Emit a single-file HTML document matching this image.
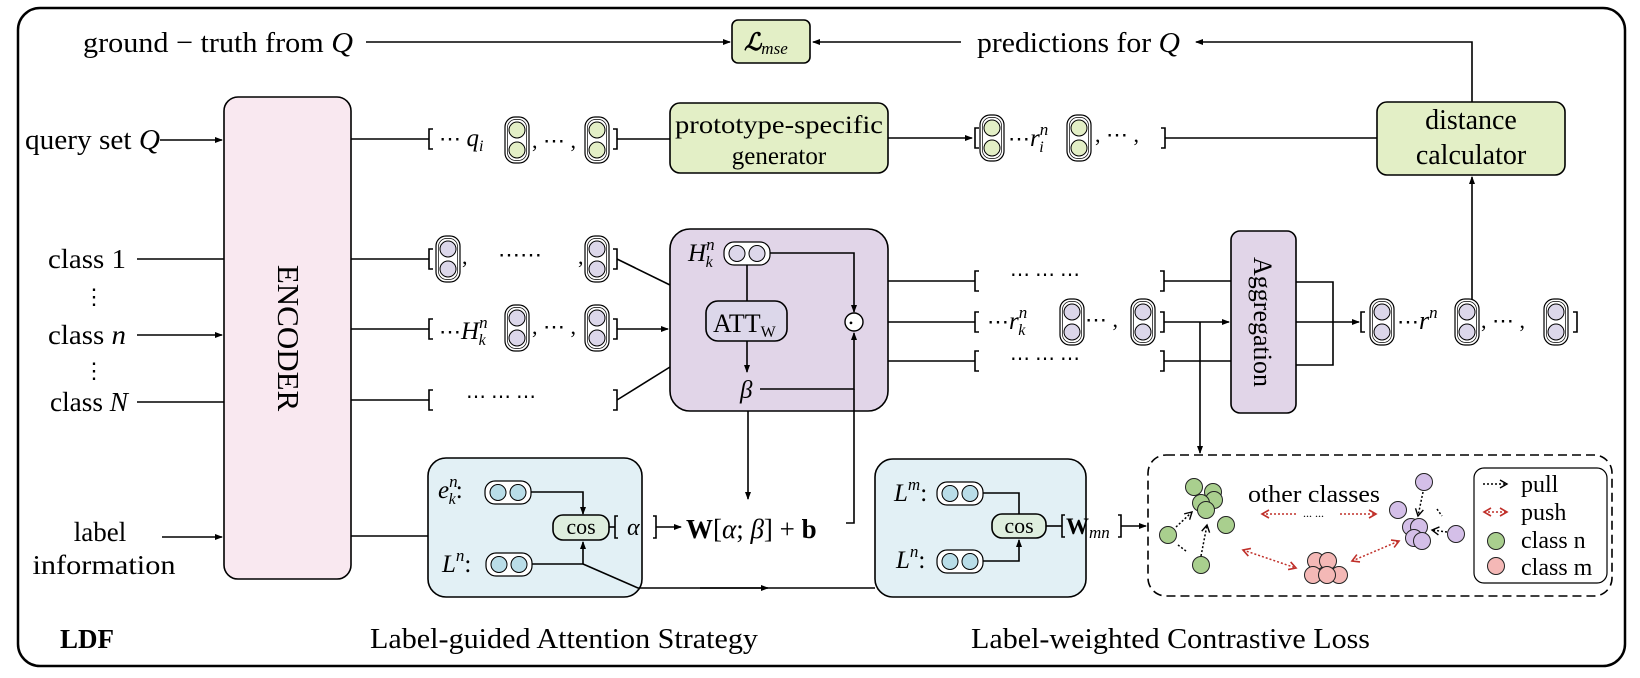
<!DOCTYPE html>
<html><head><meta charset="utf-8"><style>
html,body{margin:0;padding:0;background:#fff}
svg{display:block}
text{font-family:"Liberation Serif",serif;fill:#000}
.i{font-style:italic}
</style></head><body>
<svg width="1640" height="678" viewBox="0 0 1640 678" xmlns="http://www.w3.org/2000/svg">
<defs>
<marker id="a" markerWidth="8" markerHeight="8" refX="7" refY="4" orient="auto" markerUnits="userSpaceOnUse"><path d="M0,1 L8,4 L0,7 Z" fill="#000"/></marker>
<marker id="ar" markerWidth="10" markerHeight="10" refX="8" refY="5" orient="auto" markerUnits="userSpaceOnUse"><path d="M1,1 L8,5 L1,9" fill="none" stroke="#c0302a" stroke-width="1.6"/></marker>
<marker id="ars" markerWidth="10" markerHeight="10" refX="2" refY="5" orient="auto" markerUnits="userSpaceOnUse"><path d="M9,1 L2,5 L9,9" fill="none" stroke="#c0302a" stroke-width="1.6"/></marker>
<marker id="ab" markerWidth="10" markerHeight="10" refX="8" refY="5" orient="auto" markerUnits="userSpaceOnUse"><path d="M1,1 L8,5 L1,9" fill="none" stroke="#000" stroke-width="1.4"/></marker>
<g id="vg"><rect x="0" y="0" width="24" height="46" rx="10" fill="#fff" stroke="#000" stroke-width="1.2"/><rect x="2.5" y="2.5" width="19" height="41" rx="8" fill="none" stroke="#000" stroke-width="0.7"/><circle cx="12" cy="13" r="8" fill="#e3efc6" stroke="#000" stroke-width="1"/><circle cx="12" cy="33" r="8" fill="#e3efc6" stroke="#000" stroke-width="1"/></g>
<g id="vp"><rect x="0" y="0" width="24" height="46" rx="10" fill="#fff" stroke="#000" stroke-width="1.2"/><rect x="2.5" y="2.5" width="19" height="41" rx="8" fill="none" stroke="#000" stroke-width="0.7"/><circle cx="12" cy="13" r="8" fill="#dcd7ea" stroke="#000" stroke-width="1"/><circle cx="12" cy="33" r="8" fill="#dcd7ea" stroke="#000" stroke-width="1"/></g>
<g id="hp"><rect x="0" y="0" width="46" height="23" rx="10" fill="#fff" stroke="#000" stroke-width="1.2"/><circle cx="13" cy="11.5" r="8" fill="#dcd7ea" stroke="#000" stroke-width="1"/><circle cx="33" cy="11.5" r="8" fill="#dcd7ea" stroke="#000" stroke-width="1"/></g>
<g id="hb"><rect x="0" y="0" width="46" height="23" rx="10" fill="#fff" stroke="#000" stroke-width="1.2"/><circle cx="13" cy="11.5" r="8" fill="#b9dde8" stroke="#000" stroke-width="1"/><circle cx="33" cy="11.5" r="8" fill="#b9dde8" stroke="#000" stroke-width="1"/></g>
</defs>
<g stroke="#000" stroke-width="1.6" fill="none">
<rect x="18" y="8" width="1607" height="658" rx="22" stroke-width="2.5"/>
<line x1="366" y1="42" x2="730" y2="42" marker-end="url(#a)"/>
<line x1="961" y1="42" x2="813" y2="42" marker-end="url(#a)"/>
<polyline points="1472,102 1472,42 1196,42" marker-end="url(#a)"/>
<line x1="160" y1="140" x2="222" y2="140" marker-end="url(#a)"/>
<line x1="137" y1="259" x2="224" y2="259"/>
<line x1="137" y1="335" x2="222" y2="335" marker-end="url(#a)"/>
<line x1="137" y1="402" x2="224" y2="402"/>
<line x1="162" y1="537" x2="222" y2="537" marker-end="url(#a)"/>
<line x1="351" y1="139" x2="429" y2="139"/>
<line x1="351" y1="259" x2="429" y2="259"/>
<line x1="351" y1="329" x2="429" y2="329"/>
<line x1="351" y1="400" x2="429" y2="400"/>
<line x1="351" y1="536" x2="428" y2="536"/>
<line x1="617" y1="139" x2="670" y2="139"/>
<line x1="888" y1="138" x2="972" y2="138" marker-end="url(#a)"/>
<line x1="1165" y1="138" x2="1377" y2="138"/>
<line x1="617" y1="259" x2="670" y2="285"/>
<line x1="617" y1="329" x2="668" y2="329" marker-end="url(#a)"/>
<line x1="617" y1="400" x2="670" y2="367"/>
<line x1="888" y1="281" x2="975" y2="281"/>
<line x1="888" y1="322" x2="975" y2="322"/>
<line x1="888" y1="361" x2="975" y2="361"/>
<line x1="1164" y1="281" x2="1231" y2="281"/>
<line x1="1164" y1="322" x2="1229" y2="322" marker-end="url(#a)"/>
<line x1="1164" y1="361" x2="1231" y2="361"/>
<line x1="1200" y1="322" x2="1200" y2="453" marker-end="url(#a)"/>
<polyline points="1296,282 1333,282 1333,365 1296,365"/>
<line x1="1296" y1="322" x2="1359" y2="322" marker-end="url(#a)"/>
<line x1="1472" y1="300" x2="1472" y2="177" marker-end="url(#a)"/>
<path d="M433,129 h-4 v20 h4 M613,129 h4 v20 h-4" />
<path d="M433,249 h-4 v20 h4 M613,249 h4 v20 h-4" />
<path d="M433,319 h-4 v20 h4 M613,319 h4 v20 h-4" />
<path d="M433,390 h-4 v20 h4 M613,390 h4 v20 h-4" />
<path d="M979,128 h-4 v20 h4 M1161,128 h4 v20 h-4" />
<path d="M979,271 h-4 v20 h4 M1160,271 h4 v20 h-4" />
<path d="M979,312 h-4 v20 h4 M1160,312 h4 v20 h-4" />
<path d="M979,351 h-4 v20 h4 M1160,351 h4 v20 h-4" />
<path d="M1365,312 h-4 v20 h4 M1573,312 h4 v20 h-4" />
<rect x="224" y="97" width="127" height="482" rx="14" fill="#f9e8f0"/>
<rect x="732" y="20" width="78" height="43" rx="6" fill="#e3efc6"/>
<rect x="670" y="103" width="218" height="70" rx="10" fill="#e3efc6"/>
<rect x="1377" y="102" width="188" height="73" rx="10" fill="#e3efc6"/>
<rect x="670" y="229" width="218" height="182" rx="20" fill="#e1d5e8"/>
<rect x="1231" y="231" width="65" height="182" rx="9" fill="#e1d5e8"/>
<rect x="428" y="458" width="214" height="139" rx="18" fill="#e2f0f5"/>
<rect x="875" y="459" width="211" height="138" rx="18" fill="#e2f0f5"/>
<rect x="1148" y="455" width="464" height="141" rx="18" stroke-dasharray="9,5"/>
<rect x="1474" y="468" width="133" height="115" rx="10" stroke-width="1.2"/>
<polyline points="769,253 854,253 854,312" marker-end="url(#a)"/>
<line x1="747" y1="264" x2="747" y2="301"/>
<line x1="747" y1="341" x2="747" y2="372" marker-end="url(#a)"/>
<polyline points="760,389 854,389 854,333" marker-end="url(#a)"/>
<polyline points="846,523 854,523 854,389"/>
<line x1="748" y1="411" x2="748" y2="499" marker-end="url(#a)"/>
<circle cx="854" cy="322" r="9" fill="#fff" stroke-width="1.4"/>
<rect x="706" y="301" width="81" height="40" rx="12" fill="#dcd7ea"/>
<polyline points="531,492 583,492 583,514" marker-end="url(#a)"/>
<polyline points="532,564 583,564 583,542" marker-end="url(#a)"/>
<polyline points="583,564 638,588 875,588"/>
<line x1="700" y1="588" x2="768" y2="588" marker-end="url(#a)"/>
<rect x="553" y="515" width="56" height="25" rx="10" fill="#deeede"/>
<line x1="609" y1="527" x2="615" y2="527"/>
<line x1="656" y1="527" x2="681" y2="527" marker-end="url(#a)"/>
<path d="M618,516 h-3 v22 h3 M653,516 h3 v22 h-3"/>
<polyline points="983,493 1019,493 1019,514"/>
<polyline points="983,561 1019,561 1019,540" marker-end="url(#a)"/>
<rect x="992" y="514" width="54" height="24" rx="10" fill="#deeede"/>
<line x1="1046" y1="526" x2="1062" y2="526"/>
<line x1="1121" y1="526" x2="1146" y2="526" marker-end="url(#a)"/>
<path d="M1065,515 h-3 v22 h3 M1118,515 h3 v22 h-3"/>
</g>
<use href="#vg" x="505" y="117"/><use href="#vg" x="585" y="117"/>
<use href="#vg" x="980" y="115"/><use href="#vg" x="1067" y="115"/>
<use href="#vp" x="436" y="236"/><use href="#vp" x="585" y="236"/>
<use href="#vp" x="505" y="305"/><use href="#vp" x="585" y="305"/>
<use href="#vp" x="1060" y="299"/><use href="#vp" x="1131" y="299"/>
<use href="#vp" x="1370" y="299"/><use href="#vp" x="1455" y="299"/><use href="#vp" x="1544" y="299"/>
<use href="#hp" x="724" y="242"/>
<use href="#hb" x="485" y="481"/><use href="#hb" x="486" y="553"/>
<use href="#hb" x="937" y="482"/><use href="#hb" x="937" y="550"/>
<g stroke="#222" stroke-width="1">
<g fill="#a9cf8e"><circle cx="1194" cy="487" r="8.5"/><circle cx="1213" cy="492" r="8.5"/><circle cx="1214" cy="500" r="8.5"/><circle cx="1201" cy="503" r="8.5"/><circle cx="1206" cy="510" r="8.5"/><circle cx="1226" cy="525" r="8.5"/><circle cx="1168" cy="535" r="8.5"/><circle cx="1201" cy="565" r="8.5"/></g>
<g fill="#d4bfe8"><circle cx="1424" cy="482" r="8.5"/><circle cx="1398" cy="510" r="8.5"/><circle cx="1411" cy="527" r="8.5"/><circle cx="1419" cy="527" r="8.5"/><circle cx="1414" cy="538" r="8.5"/><circle cx="1422" cy="541" r="8.5"/><circle cx="1456" cy="534" r="8.5"/></g>
<g fill="#f4b8b6"><circle cx="1316" cy="561" r="8.5"/><circle cx="1328" cy="561" r="8.5"/><circle cx="1313" cy="575" r="8.5"/><circle cx="1339" cy="575" r="8.5"/><circle cx="1327" cy="575" r="8.5"/></g>
<circle cx="1496" cy="541" r="8.5" fill="#a9cf8e"/><circle cx="1496" cy="566" r="8.5" fill="#f4b8b6"/>
</g>
<g fill="none" stroke-width="1.5" stroke-dasharray="2,2">
<line x1="1176" y1="527" x2="1192" y2="512" stroke="#000" marker-end="url(#ab)"/>
<line x1="1201" y1="556" x2="1207" y2="525" stroke="#000" marker-end="url(#ab)"/>
<line x1="1178" y1="545" x2="1186" y2="551" stroke="#000"/>
<line x1="1423" y1="492" x2="1418" y2="516" stroke="#000" marker-end="url(#ab)"/>
<line x1="1447" y1="532" x2="1432" y2="530" stroke="#000" marker-end="url(#ab)"/>
<line x1="1437" y1="509" x2="1442" y2="516" stroke="#000"/>
<line x1="1483" y1="484" x2="1507" y2="484" stroke="#000" marker-end="url(#ab)"/>
<line x1="1262" y1="514" x2="1296" y2="514" stroke="#c0302a" marker-start="url(#ars)"/>
<line x1="1340" y1="514" x2="1376" y2="514" stroke="#c0302a" marker-end="url(#ar)"/>
<line x1="1243" y1="550" x2="1296" y2="568" stroke="#c0302a" marker-start="url(#ars)" marker-end="url(#ar)"/>
<line x1="1352" y1="561" x2="1399" y2="541" stroke="#c0302a" marker-start="url(#ars)" marker-end="url(#ar)"/>
<line x1="1484" y1="512" x2="1507" y2="512" stroke="#c0302a" marker-start="url(#ars)" marker-end="url(#ar)"/>
</g>
<text x="1303" y="517" font-size="12">... ...</text>
<text x="83" y="52" font-size="29" textLength="270" lengthAdjust="spacingAndGlyphs">ground − truth from <tspan class="i">Q</tspan></text>
<text x="977" y="52" font-size="29" textLength="203" lengthAdjust="spacingAndGlyphs">predictions for <tspan class="i">Q</tspan></text>
<text x="744" y="50" font-size="24" font-weight="bold" font-style="italic">ℒ<tspan font-size="17" dy="4" font-weight="normal">mse</tspan></text>
<text x="25" y="149" font-size="28" textLength="135" lengthAdjust="spacingAndGlyphs">query set <tspan class="i">Q</tspan></text>
<text x="48" y="268" font-size="27" textLength="78" lengthAdjust="spacingAndGlyphs">class 1</text>
<text x="83" y="304" font-size="22">⋮</text>
<text x="48" y="344" font-size="27" textLength="78" lengthAdjust="spacingAndGlyphs">class <tspan class="i">n</tspan></text>
<text x="83" y="378" font-size="22">⋮</text>
<text x="50" y="411" font-size="27" textLength="78" lengthAdjust="spacingAndGlyphs">class <tspan class="i">N</tspan></text>
<text x="100" y="541" font-size="27" text-anchor="middle">label</text>
<text x="104" y="574" font-size="27" text-anchor="middle" textLength="143" lengthAdjust="spacingAndGlyphs">information</text>
<text transform="translate(278,338) rotate(90)" font-size="31" text-anchor="middle">ENCODER</text>
<text transform="translate(1254,322) rotate(90)" font-size="26" text-anchor="middle">Aggregation</text>
<text x="779" y="133" font-size="25" text-anchor="middle" textLength="208" lengthAdjust="spacingAndGlyphs">prototype-specific</text>
<text x="779" y="164" font-size="25" text-anchor="middle">generator</text>
<text x="1471" y="129" font-size="28" text-anchor="middle">distance</text>
<text x="1471" y="164" font-size="28" text-anchor="middle">calculator</text>
<text x="439" y="146" font-size="22">⋯ <tspan class="i" font-size="25">q</tspan><tspan class="i" font-size="16" dy="5">i</tspan></text>
<text x="532" y="148" font-size="22">, ⋯ ,</text>
<text x="1008" y="146" font-size="22">⋯<tspan class="i" font-size="25">r</tspan><tspan class="i" font-size="17" dy="-11">n</tspan><tspan class="i" font-size="16" dx="-9" dy="17">i</tspan></text>
<text x="1095" y="142" font-size="22">, ⋯ ,</text>
<text x="462" y="264" font-size="22">,</text><text x="498" y="262" font-size="22">⋯⋯</text><text x="578" y="264" font-size="22">,</text>
<text x="439" y="339" font-size="22">⋯<tspan class="i" font-size="25">H</tspan><tspan class="i" font-size="17" dy="-11">n</tspan><tspan class="i" font-size="16" dx="-9" dy="17">k</tspan></text>
<text x="532" y="334" font-size="22">, ⋯ ,</text>
<text x="466" y="403" font-size="20">⋯  ⋯  ⋯</text>
<text x="688" y="261" font-size="25" class="i">H<tspan font-size="17" dy="-11">n</tspan><tspan font-size="16" dx="-9" dy="17">k</tspan></text>
<text x="713" y="332" font-size="26">ATT<tspan font-size="16" dy="5">W</tspan></text>
<text x="740" y="398" font-size="25" class="i">β</text>
<text x="851" y="327" font-size="12" text-anchor="middle">•</text>
<text x="1010" y="281" font-size="20">⋯   ⋯   ⋯</text>
<text x="1010" y="365" font-size="20">⋯   ⋯   ⋯</text>
<text x="987" y="329" font-size="22">⋯<tspan class="i" font-size="25">r</tspan><tspan class="i" font-size="17" dy="-11">n</tspan><tspan class="i" font-size="16" dx="-9" dy="17">k</tspan></text>
<text x="1085" y="327" font-size="22">⋯ ,</text>
<text x="1397" y="329" font-size="22">⋯<tspan class="i" font-size="26">r</tspan><tspan class="i" font-size="17" dy="-11">n</tspan></text>
<text x="1481" y="328" font-size="22">,  ⋯  ,</text>
<text x="438" y="498" font-size="25" class="i">e<tspan font-size="17" dy="-11">n</tspan><tspan font-size="16" dx="-9" dy="17">k</tspan><tspan dy="-6" font-style="normal">:</tspan></text>
<text x="442" y="572" font-size="25" class="i">L<tspan font-size="17" dy="-11">n</tspan><tspan dy="11" font-style="normal">:</tspan></text>
<text x="581" y="534" font-size="22" text-anchor="middle">cos</text>
<text x="627" y="535" font-size="24" class="i">α</text>
<text x="686" y="538" font-size="27"><tspan font-weight="bold">W</tspan>[<tspan class="i">α</tspan>; <tspan class="i">β</tspan>] + <tspan font-weight="bold">b</tspan></text>
<text x="894" y="501" font-size="25" class="i">L<tspan font-size="17" dy="-11">m</tspan><tspan dy="11" font-style="normal">:</tspan></text>
<text x="896" y="568" font-size="25" class="i">L<tspan font-size="17" dy="-11">n</tspan><tspan dy="11" font-style="normal">:</tspan></text>
<text x="1019" y="533" font-size="22" text-anchor="middle">cos</text>
<text x="1066" y="534" font-size="23" font-weight="bold">W<tspan class="i" font-weight="normal" font-size="17" dy="4">mn</tspan></text>
<text x="1248" y="502" font-size="24" textLength="132" lengthAdjust="spacingAndGlyphs">other classes</text>
<text x="1521" y="492" font-size="24">pull</text>
<text x="1521" y="520" font-size="24">push</text>
<text x="1521" y="548" font-size="24">class n</text>
<text x="1521" y="575" font-size="24">class m</text>
<text x="60" y="648" font-size="27" font-weight="bold">LDF</text>
<text x="370" y="648" font-size="28" textLength="388" lengthAdjust="spacingAndGlyphs">Label-guided Attention Strategy</text>
<text x="971" y="648" font-size="28" textLength="399" lengthAdjust="spacingAndGlyphs">Label-weighted Contrastive Loss</text>
</svg>
</body></html>
